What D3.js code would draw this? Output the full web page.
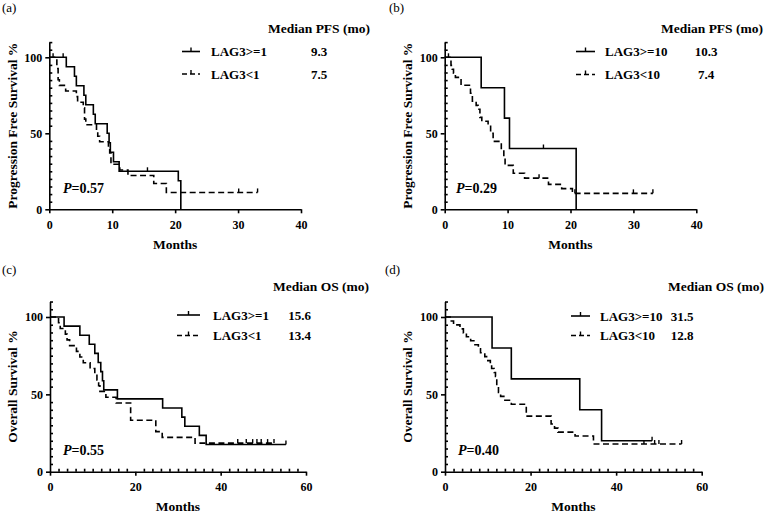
<!DOCTYPE html>
<html><head><meta charset="utf-8">
<script src="https://cdn.jsdelivr.net/npm/d3@7/dist/d3.min.js"></script>
<style>
body{margin:0;background:#fff}
svg{display:block}
text{font-family:"Liberation Serif","Times New Roman",serif;fill:#000}
</style></head>
<body><svg id="chart" width="766" height="515"></svg>
<script>
// ---------------- DATA ----------------
const panelLetters = ["(a)", "(b)", "(c)", "(d)"];
const yTickLabels = [0, 50, 100];
const yMinorTicks = [5,10,15,20,25,30,35,40,45,55,60,65,70,75,80,85,90,95,105,110];
const pfsTickLabels = [0, 10, 20, 30, 40];
const osTickLabels = [0, 20, 40, 60];
const osMinorTicks = [2,4,6,8,10,12,14,16,18,22,24,26,28,30,32,34,36,38,42,44,46,48,50,52,54,56,58];
const yTitles = ["Progression Free Survival %", "Progression Free Survival %", "Overall Survival %", "Overall Survival %"];
const legendTitles = ["Median PFS (mo)", "Median PFS (mo)", "Median OS (mo)", "Median OS (mo)"];
const seriesNames = [["LAG3>=1", "LAG3<1"], ["LAG3>=10", "LAG3<10"], ["LAG3>=1", "LAG3<1"], ["LAG3>=10", "LAG3<10"]];
const medians = [["9.3", "7.5"], ["10.3", "7.4"], ["15.6", "13.4"], ["31.5", "12.8"]];
const pValues = ["0.57", "0.29", "0.55", "0.40"];

// (a) PFS, LAG3>=1 vs LAG3<1
const aHighT = [0, 2.7, 4.0, 4.3, 5.5, 5.8, 7.0, 7.3, 9.2, 9.5, 9.7, 10.2, 11.1, 20.5, 20.9];
const aHighS = [100, 93.75, 87.5, 81.25, 75, 68.75, 62.5, 56.25, 50, 43.75, 37.5, 31.25, 25, 18.75, 0];
const aHighCens = [2.2, 15.6];
const aLowT = [0, 1.2, 1.4, 1.6, 2.6, 4.3, 4.5, 5.4, 5.6, 5.8, 7.5, 7.7, 8.0, 9.4, 9.6, 9.8, 11.2, 12.5, 16.6, 18.6];
const aLowS = [100, 92.6, 85.2, 81.5, 77.8, 74.1, 70.4, 66.7, 59.3, 55.6, 51.9, 48.1, 44.4, 40.7, 37.0, 29.6, 25.9, 22.2, 17.0, 11.1];
const aLowCens = [0.6, 30.1, 33.1];

// (b) PFS, LAG3>=10 vs LAG3<10
const bHighT = [0, 5.8, 9.5, 10.3, 20.9];
const bHighS = [100, 80, 60, 40, 0];
const bHighCens = [15.7];
const bLowT = [0, 1.0, 1.2, 1.4, 1.7, 2.6, 4.1, 4.4, 5.0, 5.3, 5.6, 5.9, 6.9, 7.3, 7.7, 9.0, 9.4, 9.6, 10.9, 12.7, 16.5, 18.6, 20.3];
const bLowS = [100, 94.7, 92.1, 89.5, 86.8, 81.6, 76.3, 71.1, 68.4, 65.8, 60.5, 57.9, 55.3, 50.0, 44.7, 39.5, 34.2, 28.9, 23.7, 20.5, 16.4, 13.6, 10.5];
const bLowCens = [0.6, 15.0, 20.7, 30.0, 33.1];

// (c) OS, LAG3>=1 vs LAG3<1
const cHighT = [0, 3.3, 7.0, 9.2, 10.5, 11.3, 11.9, 12.3, 12.6, 15.8, 26.4, 30.9, 31.6, 35.0, 36.6];
const cHighS = [100, 94.1, 88.2, 82.4, 76.5, 70.6, 64.7, 58.8, 52.9, 47.1, 41.2, 35.3, 29.4, 23.5, 17.6];
const cHighCens = [55.3];
const cLowT = [0, 2.0, 2.4, 3.6, 4.0, 4.6, 6.2, 7.0, 7.8, 9.4, 10.5, 11.0, 11.4, 11.7, 13.1, 15.5, 18.9, 24.8, 26.3, 34.0];
const cLowS = [100, 96.3, 92.6, 88.9, 85.2, 81.5, 77.8, 74.1, 70.4, 66.7, 63.0, 59.3, 55.6, 51.9, 48.1, 44.4, 33.3, 25.9, 22.2, 18.5];
const cLowCens = [44.0, 46.0, 47.5, 48.5, 49.5, 51.0, 52.5];

// (d) OS, LAG3>=10 vs LAG3<10
const dHighT = [0, 11.0, 15.5, 31.5, 36.6];
const dHighS = [100, 80, 60, 40, 20];
const dHighCens = [48.4];
const dLowT = [0, 1.2, 2.0, 3.5, 4.3, 5.0, 6.0, 7.0, 7.8, 8.3, 9.3, 10.0, 10.6, 10.9, 11.5, 11.8, 12.1, 12.5, 13.0, 14.0, 15.5, 19.0, 24.8, 25.6, 26.4, 30.4, 34.7];
const dLowS = [100, 97.4, 94.9, 92.3, 89.7, 87.2, 84.6, 82.1, 79.5, 76.9, 74.4, 71.8, 69.2, 66.7, 64.1, 61.5, 56.4, 51.3, 48.7, 46.2, 43.6, 35.9, 30.8, 28.2, 25.6, 23.1, 17.9];
const dLowCens = [46.5, 49.0, 50.0, 55.3];

// ---------------- LAYOUT ----------------
const layout = [
  {left:49.3, right:301, bottom:209.3, top100:57.3, xMax:40, xTicks:pfsTickLabels, xMinor:[],
   letter:[2,12], legTitleX:319, legTitleY:28.5, symX:[182,200], textX:211, valX:319, rowY:[51.5,74], pX:63, pY:188,
   high:[aHighT,aHighS,aHighCens], low:[aLowT,aLowS,aLowCens]},
  {left:444.7, right:696.3, bottom:209.3, top100:57.3, xMax:40, xTicks:pfsTickLabels, xMinor:[],
   letter:[389,12], legTitleX:712, legTitleY:28.5, symX:[576,595], textX:605, valX:706, rowY:[51.5,74.5], pX:456, pY:188,
   high:[bHighT,bHighS,bHighCens], low:[bLowT,bLowS,bLowCens]},
  {left:50, right:306, bottom:471.7, top100:317, xMax:60, xTicks:osTickLabels, xMinor:osMinorTicks,
   letter:[2,274], legTitleX:321, legTitleY:286.7, symX:[177,200], textX:213, valX:299.5, rowY:[315,335.5], pX:63, pY:450,
   high:[cHighT,cHighS,cHighCens], low:[cLowT,cLowS,cLowCens]},
  {left:445, right:701.7, bottom:471.7, top100:317, xMax:60, xTicks:osTickLabels, xMinor:osMinorTicks,
   letter:[385,274], legTitleX:716, legTitleY:286.7, symX:[571,590], textX:600, valX:682, rowY:[316,335.5], pX:458, pY:450,
   high:[dHighT,dHighS,dHighCens], low:[dLowT,dLowS,dLowCens]}
];

const svg = d3.select("#chart");
const DASH = "6,3.5";

function survAt(T, S, t) {
  let s = S[0];
  for (let i = 0; i < T.length; i++) if (T[i] <= t) s = S[i];
  return s;
}

layout.forEach((p, k) => {
  const g = svg.append("g");
  const x = d3.scaleLinear().domain([0, p.xMax]).range([p.left, p.right]);
  const y = d3.scaleLinear().domain([0, 110]).range([p.bottom, p.bottom - (p.bottom - p.top100) * 1.1]);

  // panel letter
  g.append("text").attr("x", p.letter[0]).attr("y", p.letter[1])
    .attr("font-size", 13).text(panelLetters[k]);

  // y axis
  g.append("g").attr("transform", `translate(${p.left},0)`)
    .call(d3.axisLeft(y).tickValues(yTickLabels).tickSize(4).tickSizeOuter(0).tickPadding(3));
  g.append("g").attr("transform", `translate(${p.left},0)`)
    .call(d3.axisLeft(y).tickValues(yMinorTicks).tickSize(-3).tickSizeOuter(0).tickFormat(""))
    .select(".domain").remove();
  // x axis
  g.append("g").attr("transform", `translate(0,${p.bottom})`)
    .call(d3.axisBottom(x).tickValues(p.xTicks).tickSize(4).tickSizeOuter(0).tickPadding(7));
  if (p.xMinor.length) {
    g.append("g").attr("transform", `translate(0,${p.bottom})`)
      .call(d3.axisBottom(x).tickValues(p.xMinor).tickSize(-3).tickSizeOuter(0).tickFormat(""))
      .select(".domain").remove();
  }
  g.selectAll(".domain, .tick line").attr("stroke", "#000").attr("stroke-width", 1.6);
  g.selectAll(".tick text").attr("font-family", '"Liberation Serif","Times New Roman",serif')
    .attr("font-size", 12).attr("font-weight", "bold").attr("fill", "#000");

  // axis titles
  const yMid = (y(0) + y(110)) / 2;
  g.append("text").attr("transform", `translate(${p.left - 37.5},${yMid}) rotate(-90)`)
    .attr("text-anchor", "middle").attr("dy", "0.35em")
    .attr("font-size", 13.5).attr("font-weight", "bold").text(yTitles[k]);
  g.append("text").attr("x", (p.left + p.right) / 2).attr("y", p.bottom + 35)
    .attr("text-anchor", "middle").attr("dy", "0.35em")
    .attr("font-size", 13.5).attr("font-weight", "bold").text("Months");

  // curves
  const line = d3.line().x(d => x(d[0])).y(d => y(d[1])).curve(d3.curveStepAfter);
  [p.high, p.low].forEach((ser, j) => {
    const [T, S, C] = ser;
    const pts = T.map((t, i) => [t, S[i]]);
    const endT = Math.max(T[T.length - 1], ...C);
    if (endT > T[T.length - 1]) pts.push([endT, S[S.length - 1]]);
    g.append("path").attr("d", line(pts)).attr("fill", "none")
      .attr("stroke", "#000").attr("stroke-width", 1.6)
      .attr("stroke-dasharray", j === 1 ? DASH : null);
    C.forEach(c => {
      const s = survAt(T, S, c);
      g.append("line").attr("x1", x(c)).attr("x2", x(c))
        .attr("y1", y(s)).attr("y2", y(s) - 4)
        .attr("stroke", "#000").attr("stroke-width", 1.4);
    });
  });

  // legend
  g.append("text").attr("x", p.legTitleX).attr("y", p.legTitleY).attr("dy", "0.35em")
    .attr("text-anchor", "middle").attr("font-size", 13.5).attr("font-weight", "bold").text(legendTitles[k]);
  [0, 1].forEach(j => {
    const ry = p.rowY[j];
    g.append("line").attr("x1", p.symX[0]).attr("x2", p.symX[1]).attr("y1", ry).attr("y2", ry)
      .attr("stroke", "#000").attr("stroke-width", 1.6)
      .attr("stroke-dasharray", j === 1 ? "5,3" : null);
    const mx = (p.symX[0] + p.symX[1]) / 2;
    g.append("line").attr("x1", mx).attr("x2", mx).attr("y1", ry).attr("y2", ry - 4)
      .attr("stroke", "#000").attr("stroke-width", 1.4);
    g.append("text").attr("x", p.textX).attr("y", ry).attr("dy", "0.35em")
      .attr("font-size", 13).attr("font-weight", "bold").text(seriesNames[k][j]);
    g.append("text").attr("x", p.valX).attr("y", ry).attr("dy", "0.35em").attr("text-anchor", "middle")
      .attr("font-size", 13).attr("font-weight", "bold").text(medians[k][j]);
  });

  // P value
  const pt = g.append("text").attr("x", p.pX).attr("y", p.pY).attr("dy", "0.35em")
    .attr("font-size", 14).attr("font-weight", "bold");
  pt.append("tspan").attr("font-style", "italic").text("P");
  pt.append("tspan").text("=" + pValues[k]);
});
</script>
</body></html>
